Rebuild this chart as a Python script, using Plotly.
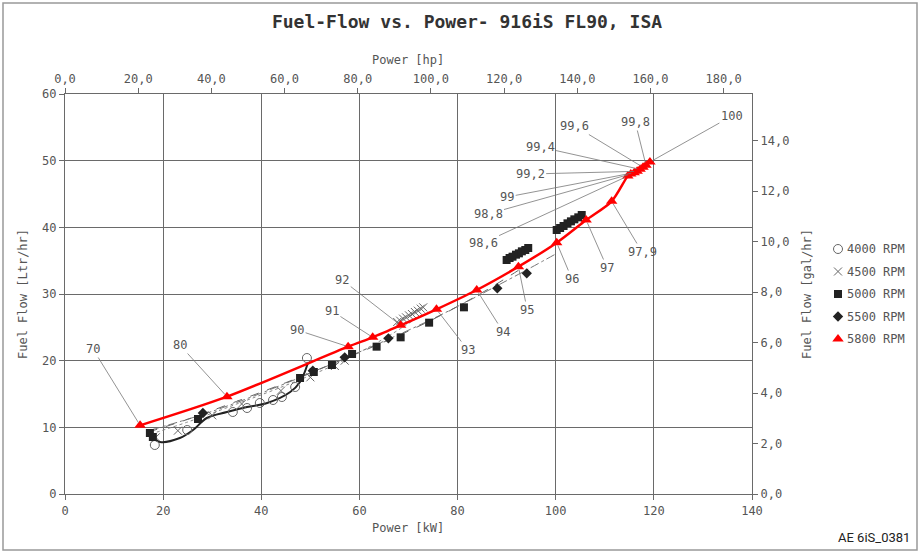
import plotly.graph_objects as go

# ---------------- data ----------------
# 5800 RPM series (red triangles) with throttle-position labels
kw_5800 = [15.3, 33.0, 57.7, 62.7, 68.4, 75.7, 83.9, 92.4, 100.2, 106.2, 111.4,
           114.7, 115.3, 116.0, 116.6, 117.2, 117.8, 118.4, 119.2]
lph_5800 = [10.3, 14.6, 22.1, 23.5, 25.3, 27.7, 30.6, 34.1, 37.7, 41.1, 43.9,
            47.7, 48.0, 48.2, 48.4, 48.7, 49.0, 49.3, 49.8]
labels_5800 = ["70", "80", "90", "91", "92", "93", "94", "95", "96", "97", "97,9",
               "98,6", "98,8", "99", "99,2", "99,4", "99,6", "99,8", "100"]
# label text positions (kW, Ltr/hr)
label_kw = [5.7, 23.4, 47.3, 54.4, 56.5, 82.1, 89.3, 94.2, 103.3, 110.5, 117.6,
            85.2, 86.2, 90.1, 94.8, 96.8, 103.9, 116.2, 135.9]
label_lph = [21.75, 22.35, 24.6, 27.45, 32.1, 21.6, 24.3, 27.6, 32.25, 33.9, 36.3,
             37.65, 42.0, 44.55, 48.0, 52.05, 55.2, 55.8, 56.7]

# 4000 RPM (open circles) and its fitted curve
kw_4000 = [18.3, 24.9, 34.2, 37.1, 39.7, 42.4, 44.2, 46.9, 49.3]
lph_4000 = [7.35, 9.6, 12.3, 12.9, 13.65, 14.1, 14.55, 16.05, 20.4]
fit_kw_4000 = [17.7, 19.4, 23.4, 26.1, 28.9, 33.0, 37.1, 41.2, 45.9, 47.9, 49.5]
fit_lph_4000 = [8.55, 7.8, 8.4, 9.6, 11.4, 12.3, 13.05, 13.65, 15.3, 16.8, 19.65]

# 4500 RPM (crosses)
kw_4500 = [18.5, 23.0, 30.0, 36.0, 44.0, 50.0, 55.0, 57.0,
           67.7, 68.3, 68.9, 69.5, 70.1, 70.7, 71.3, 71.9, 72.5, 73.0]
lph_4500 = [8.5, 9.5, 11.8, 13.5, 15.5, 17.5, 19.2, 20.0,
            25.8, 26.0, 26.3, 26.5, 26.8, 27.0, 27.3, 27.5, 27.8, 28.0]

# 5000 RPM (filled squares)
kw_5000 = [17.3, 17.9, 27.1, 47.9, 50.7, 54.4, 58.5, 63.5, 68.4, 74.2, 81.3,
           90.0, 90.6, 91.2, 91.9, 92.5, 93.1, 93.8, 94.4,
           100.2, 100.9, 101.6, 102.4, 103.1, 103.8, 104.6, 105.3]
lph_5000 = [9.15, 8.55, 11.25, 17.4, 18.3, 19.35, 21.0, 22.1, 23.5, 25.7, 28.0,
            35.1, 35.4, 35.6, 35.9, 36.1, 36.4, 36.6, 36.9,
            39.6, 39.9, 40.2, 40.6, 40.9, 41.2, 41.5, 41.85]

# 5500 RPM (diamonds)
kw_5500 = [28.1, 50.5, 57.0, 65.9, 88.1, 94.1]
lph_5500 = [12.15, 18.5, 20.5, 23.35, 30.85, 33.1]

# trend lines of the lower-speed series
trend_kw_4500 = [17.5, 25.0, 35.0, 45.0, 55.0, 65.0, 73.0]
trend_lph_4500 = [9.0, 10.8, 13.5, 16.3, 19.4, 23.3, 27.0]
trend_kw_5000 = [17.0, 25.0, 35.0, 45.0, 55.0, 65.0, 75.0, 85.0, 94.0]
trend_lph_5000 = [9.3, 11.2, 13.9, 16.7, 19.7, 22.8, 26.2, 30.2, 34.3]
trend_kw_5500 = [17.5, 30.0, 45.0, 60.0, 75.0, 90.0, 100.0]
trend_lph_5500 = [9.6, 12.4, 16.6, 21.3, 26.3, 32.0, 36.0]

# axes
kw_ticks = [0, 20, 40, 60, 80, 100, 120, 140]
lph_ticks = [0, 10, 20, 30, 40, 50, 60]
hp_ticks = [0, 20, 40, 60, 80, 100, 120, 140, 160, 180]
hp_ticktext = ["0,0", "20,0", "40,0", "60,0", "80,0", "100,0", "120,0", "140,0", "160,0", "180,0"]
gal_ticks = [0, 2, 4, 6, 8, 10, 12, 14]
gal_ticktext = ["0,0", "2,0", "4,0", "6,0", "8,0", "10,0", "12,0", "14,0"]
KW_PER_HP = 0.7457
L_PER_GAL = 3.785

legend_names = ["4000 RPM", "4500 RPM", "5000 RPM", "5500 RPM", "5800 RPM"]

# ---------------- figure ----------------
W, H = 919, 552
MONO = "DejaVu Sans Mono, Liberation Mono, monospace"
GRID = "#6a6a6a"
TXT = "#555555"


def px(xp):
    return xp / W


def py(yp):
    return 1 - yp / H


fig = go.Figure()

# trend lines
fig.add_trace(go.Scatter(x=trend_kw_5500, y=trend_lph_5500, mode="lines",
                         line=dict(color="#777777", width=1, dash="dashdot", shape="spline")))
fig.add_trace(go.Scatter(x=trend_kw_5000, y=trend_lph_5000, mode="lines",
                         line=dict(color="#666666", width=1, dash="dash", shape="spline")))
fig.add_trace(go.Scatter(x=trend_kw_4500, y=trend_lph_4500, mode="lines",
                         line=dict(color="#888888", width=1, dash="dot", shape="spline")))
fig.add_trace(go.Scatter(x=fit_kw_4000, y=fit_lph_4000, mode="lines",
                         line=dict(color="#222222", width=2, shape="spline")))

# markers
m4000 = dict(symbol="circle-open", size=9, color="#666666", line=dict(width=1))
m4500 = dict(symbol="x-thin-open", size=8, color="#666666", line=dict(width=1))
m5000 = dict(symbol="square", size=8, color="#222222")
m5500 = dict(symbol="diamond", size=8, color="#222222")
m5800 = dict(symbol="triangle-up", size=10, color="#ff0000")

fig.add_trace(go.Scatter(x=kw_4000, y=lph_4000, mode="markers", marker=m4000))
fig.add_trace(go.Scatter(x=kw_4500, y=lph_4500, mode="markers", marker=m4500))
fig.add_trace(go.Scatter(x=kw_5000, y=lph_5000, mode="markers", marker=m5000))
fig.add_trace(go.Scatter(x=kw_5500, y=lph_5500, mode="markers", marker=m5500))

# red 5800 line and markers
fig.add_trace(go.Scatter(x=kw_5800, y=lph_5800, mode="lines",
                         line=dict(color="#ff0000", width=2.5, shape="spline", smoothing=0.8)))
fig.add_trace(go.Scatter(x=kw_5800, y=lph_5800, mode="markers", marker=m5800))

# invisible trace to activate secondary axes
fig.add_trace(go.Scatter(x=[0, 140 / KW_PER_HP], y=[0, 60 / L_PER_GAL], xaxis="x2", yaxis="y2",
                         mode="markers", marker=dict(opacity=0), hoverinfo="skip"))

# custom legend (pixel-coordinate helper axes)
leg_y = [249, 271.5, 294, 316.5, 339]
for mk, yy, name in zip([m4000, m4500, m5000, m5500, m5800], leg_y, legend_names):
    fig.add_trace(go.Scatter(x=[838], y=[yy], xaxis="x3", yaxis="y3", mode="markers",
                             marker=mk, hoverinfo="skip"))
    fig.add_annotation(text=name, xref="paper", yref="paper", x=px(845), y=py(yy),
                       xanchor="left", yanchor="middle", showarrow=False,
                       font=dict(family=MONO, size=12, color=TXT))

# labels with leader lines
for kx, ly, t, tx, ty in zip(kw_5800, lph_5800, labels_5800, label_kw, label_lph):
    fig.add_annotation(x=kx, y=ly, ax=tx, ay=ty, axref="x", ayref="y", xref="x", yref="y",
                       text=t, showarrow=True, arrowhead=0, arrowwidth=0.8,
                       arrowcolor="#777777", font=dict(family=MONO, size=12, color=TXT),
                       standoff=3)


def centered_note(text, xp, yp, angle=0, font=None):
    fig.add_annotation(text=text, xref="paper", yref="paper", x=px(xp), y=py(yp),
                       xanchor="center", yanchor="middle", textangle=angle, showarrow=False,
                       font=font or dict(family=MONO, size=12, color=TXT))


# axis titles and footer
centered_note("Power [hp]", 408, 60)
centered_note("Power [kW]", 408, 528)
centered_note("Fuel Flow [Ltr/hr]", 23, 294, -90)
centered_note("Fuel Flow [gal/hr]", 807, 294, -90)
centered_note("AE 6iS_0381", 874, 537,
              font=dict(family="Liberation Sans Narrow, Roboto, sans-serif", size=13,
                        color="#222222"))

# outer frame
fig.add_shape(type="rect", xref="paper", yref="paper",
              x0=px(3), x1=px(917), y0=py(550), y1=py(3),
              line=dict(color="#999999", width=1.5))

axis_common = dict(showline=True, linecolor=GRID, linewidth=1.2, ticks="outside",
                   ticklen=5, tickcolor=GRID, zeroline=False, automargin=False,
                   tickfont=dict(family=MONO, size=12, color=TXT))

fig.update_layout(
    width=W, height=H,
    margin=dict(l=0, r=0, t=0, b=0, autoexpand=False),
    paper_bgcolor="white", plot_bgcolor="white",
    showlegend=False,
    title=dict(text="Fuel-Flow vs. Power- 916iS FL90, ISA", x=467 / W, xanchor="center",
               y=1 - 22 / H, yanchor="middle", yref="container",
               font=dict(family=MONO, size=18, color="#333333", weight="bold")),
    xaxis=dict(domain=[px(65), px(752)], range=[0, 140], tickvals=kw_ticks, showgrid=True,
               gridcolor=GRID, gridwidth=1, **axis_common),
    yaxis=dict(domain=[py(494), py(94)], range=[0, 60], tickvals=lph_ticks, showgrid=True,
               gridcolor=GRID, gridwidth=1, **axis_common),
    xaxis2=dict(range=[0, 140 / KW_PER_HP], tickvals=hp_ticks, ticktext=hp_ticktext,
                overlaying="x", side="top", showgrid=False, **axis_common),
    yaxis2=dict(range=[0, 60 / L_PER_GAL], tickvals=gal_ticks, ticktext=gal_ticktext,
                overlaying="y", side="right", showgrid=False, **axis_common),
    xaxis3=dict(domain=[px(820), px(915)], range=[820, 915], visible=False, anchor="y3"),
    yaxis3=dict(domain=[0, 1], range=[H, 0], visible=False, anchor="x3"),
)
fig.update_traces(showlegend=False)

fig.write_html("out.html", config={"displayModeBar": False},
               post_script="document.body.style.margin='0px';")
